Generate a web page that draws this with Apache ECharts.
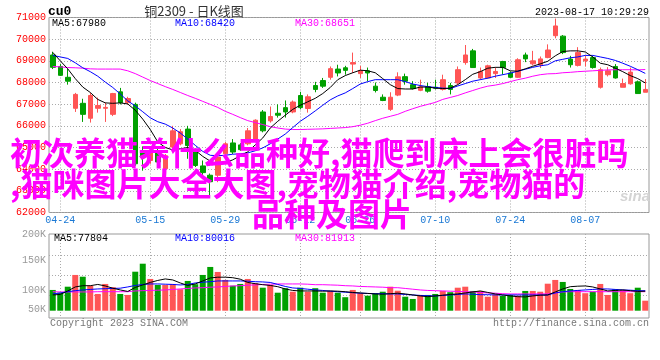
<!DOCTYPE html>
<html><head><meta charset="utf-8">
<script src="https://cdn.jsdelivr.net/npm/echarts@6/dist/echarts.min.js"></script>
<style>html,body{margin:0;padding:0;background:#fff}#c{width:660px;height:360px}</style>
</head><body><div id="c"></div>
<script>
const dates = ['04-21','04-24','04-25','04-26','04-27','04-28','05-04','05-05','05-08','05-09',
 '05-10','05-11','05-12','05-15','05-16','05-17','05-18','05-19','05-22','05-23',
 '05-24','05-25','05-26','05-29','05-30','05-31','06-01','06-02','06-05','06-06',
 '06-07','06-08','06-09','06-12','06-13','06-14','06-15','06-16','06-19','06-20',
 '06-21','06-26','06-27','06-28','06-29','06-30','07-03','07-04','07-05','07-06',
 '07-07','07-10','07-11','07-12','07-13','07-14','07-17','07-18','07-19','07-20',
 '07-21','07-24','07-25','07-26','07-27','07-28','07-31','08-01','08-02','08-03',
 '08-04','08-07','08-08','08-09','08-10','08-11','08-14','08-15','08-16','08-17'];
const labelDates = ['04-24','05-15','05-29','06-12','06-26','07-10','07-24','08-07'];

const openP = [69270,68740,68240,66810,67040,66350,66810,66810,66530,67570,
 67070,66990,64860,64400,64860,64020,65020,65170,65850,64860,
 64150,63720,63720,64710,65210,65120,65170,65390,66640,66230,
 66580,66840,66640,67400,66800,67860,68090,68240,68620,68680,
 68850,68410,68540,67830,67320,66760,67420,68270,67900,67640,
 67800,67780,67680,67860,67980,68920,69460,68210,68210,68410,
 68970,68440,68240,69270,68860,68820,69150,70160,70140,69080,
 68790,69000,69150,67780,68360,68740,67780,67940,68030,67550];
const closeP = [68700,68330,68060,67450,66530,67400,66940,66850,67490,67070,
 67260,64250,64560,64850,64330,64620,65770,65730,65090,64170,
 63840,63420,64560,65170,64790,64900,65770,66260,65770,66430,
 66490,66640,67100,66840,67340,67680,67830,68640,68440,68560,
 68920,68540,68440,67630,67170,67320,68260,68060,67720,67800,
 67600,67740,68130,67680,68590,69270,68690,68510,68770,68510,
 68690,68240,69050,69090,69000,69090,69500,70610,69380,68820,
 69380,69080,68690,68590,68540,68210,67950,68480,67490,67680];
const lowP = [68620,68300,67900,66640,66180,66150,66610,66180,66450,66990,
 66990,64160,63930,64250,64250,63570,64950,65100,64480,64100,
 63570,62730,63400,64600,64700,64850,65100,65350,65700,66150,
 66380,66380,66580,66760,66610,67550,67750,68130,68280,68360,
 68440,68210,68060,67540,67140,66690,67370,67900,67680,67600,
 67530,67680,67630,67450,67900,68820,68670,68130,68180,68210,
 68360,68210,68210,68940,68790,68670,69120,70040,69310,68690,
 68740,68740,68640,67720,68280,68180,67780,67900,67490,67550];
const highP = [69420,68850,68630,67520,67250,67520,67300,67070,67520,67750,
 67340,67070,65050,65000,64950,64700,66000,65850,66000,64950,
 64400,63800,64650,65250,65390,65200,65900,66300,66730,66890,
 66990,67170,67170,67570,67450,68030,68210,68740,68820,68770,
 69380,68770,68690,68000,67450,67550,68470,68410,68060,68130,
 67980,68130,68360,67980,68740,69730,69550,68690,68820,68690,
 69000,68510,69120,69380,69460,69200,69760,70950,70190,69230,
 69630,69240,69240,68690,68710,68850,68180,68690,68090,68160];

const ma5 = [69390,69000,68630,68180,67790,67540,67220,67060,67040,67060,
 67010,66720,66310,65830,65260,65000,64890,64940,65000,64870,
 64590,64370,64250,64300,64430,64620,64800,65120,65440,65900,
 66210,66490,66760,66950,67110,67270,67490,67770,68130,68320,
 68450,68570,68540,68450,68180,67900,67720,67700,67700,67790,
 67790,67740,67720,67740,67900,68130,68380,68500,68660,68700,
 68700,68540,68520,68630,68750,68860,68980,69230,69430,69460,
 69460,69410,69180,68890,68820,68660,68500,68320,68180,67980];
const ma10 = [69250,69180,69110,68910,68680,68500,68290,68020,67770,67470,
 67150,66920,66650,66370,66190,66080,65900,65670,65390,65100,
 64820,64640,64620,64640,64690,64710,64750,64850,64980,65170,
 65390,65620,65920,66210,66440,66690,66950,67200,67380,67520,
 67720,67930,68040,68130,68130,68130,68130,68040,67930,67860,
 67810,67770,67740,67720,67840,67950,68060,68130,68200,68290,
 68360,68430,68520,68610,68700,68770,68820,69000,69070,69140,
 69180,69250,69250,69180,69110,69020,68890,68750,68590,68420];
const ma30 = [68740,68720,68690,68680,68660,68630,68620,68620,68620,68620,
 68540,68410,68250,68090,67950,67810,67680,67540,67400,67270,
 67130,66990,66850,66670,66530,66380,66240,66150,66060,65960,
 65900,65850,65830,65830,65840,65850,65860,65880,65900,65920,
 65960,66030,66120,66240,66350,66440,66530,66670,66790,66900,
 66990,67080,67220,67310,67400,67520,67630,67740,67830,67880,
 67950,68040,68130,68200,68290,68360,68400,68410,68450,68470,
 68500,68520,68540,68560,68580,68590,68590,68590,68580,68600];

const volume = [83000,72000,96000,143000,136000,100000,67000,107000,94000,67000,
 63000,156000,188000,127000,103000,103000,107000,86000,119000,106000,
 143000,175000,155000,123000,100000,107000,127000,110000,92000,103000,
 72000,90000,76000,92000,76000,90000,72000,79000,72000,54000,
 83000,70000,60000,70000,76000,96000,80000,56000,47000,63000,
 63000,67000,79000,74000,92000,96000,79000,79000,56000,66000,
 59000,63000,60000,79000,79000,76000,108000,123000,115000,87000,
 83000,70000,76000,107000,63000,86000,83000,70000,92000,40000];
const volMa5 = [63000,65000,79000,95000,100000,100000,105000,99000,90000,83000,
 77000,93000,103000,113000,121000,127000,123000,111000,101000,107000,
 119000,131000,134000,134000,132000,126000,113000,108000,104000,101000,
 96000,87000,81000,79000,79000,79000,78000,79000,78000,76000,
 73000,71000,69000,67000,66000,68000,70000,67000,63000,59000,
 56000,59000,62000,65000,67000,71000,75000,79000,73000,67000,
 63000,59000,56000,55000,59000,62000,63000,75000,87000,96000,
 98000,99000,95000,87000,79000,81000,83000,80000,77000,78000];
const volMa10 = [67000,71000,76000,80000,83000,85000,87000,88000,89000,90000,
 95000,101000,105000,107000,107000,106000,105000,103000,105000,111000,
 114000,116000,119000,119000,119000,119000,118000,116000,115000,113000,
 105000,97000,91000,89000,86000,83000,81000,78000,76000,74000,
 72000,70000,69000,68000,68000,67000,67000,65000,63000,61000,
 60000,59000,61000,63000,65000,67000,66000,64000,64000,63000,
 63000,63000,63000,63000,63000,63000,63000,71000,76000,79000,
 81000,83000,85000,87000,87000,85000,83000,82000,80000,80000];
const volMa30 = [76000,75000,75000,75000,75000,75000,76000,76000,76000,76000,
 76000,79000,80000,81000,82000,83000,85000,87000,89000,91000,
 92000,94000,95000,97000,99000,100000,102000,103000,105000,106000,
 107000,107000,107000,107000,106000,104000,104000,103000,102000,100000,
 99000,97000,96000,95000,94000,92000,92000,89000,86000,83000,
 81000,80000,79000,78000,77000,76000,75000,73000,71000,70000,
 68000,67000,67000,67000,67000,67000,67000,71000,75000,76000,
 76000,76000,76000,76000,76000,76000,76000,76000,76000,76000];

const volTickValues = [4800, 82800, 202800, 306800];
const volTickLabels = ['50K', '100K', '150K', '200K'];
const volGridValues = [60000, 140000, 220000];

const symbolText = 'cu0';
const titleText = '铜2309 - 日K线图';
const timeText = '2023-08-17 10:29:29';
const priceMaText = ['MA5:67980', 'MA10:68420', 'MA30:68651'];
const volMaText = ['MA5:77804', 'MA10:80016', 'MA30:81913'];
const copyrightText = 'Copyright 2023 SINA.COM';
const urlText = 'http://finance.sina.com.cn';
const overlayLines = ['初次养猫养什么品种好,猫爬到床上会很脏吗', ',猫咪图片大全大图,宠物猫介绍,宠物猫的', '品种及图片'];

const UP = '#ff5555', DOWN = '#00a000';
const MONO = '"Liberation Mono", monospace';
const dotted = {color: '#aaaaaa', type: [1, 2], width: 1};
const isLabelDate = (i, v) => labelDates.indexOf(v) >= 0;

const chart = echarts.init(document.getElementById('c'), null, {renderer: 'canvas'});
const ohlc = openP.map((o, i) => [o, closeP[i], lowP[i], highP[i]]);
const volData = volume.map((v, i) => ({value: v, itemStyle: {color: closeP[i] >= openP[i] ? UP : DOWN}}));

function maLine(data, color, xi, yi) {
  return {type: 'line', data: data, xAxisIndex: xi, yAxisIndex: yi, symbol: 'none', showSymbol: false,
    lineStyle: {color: color, width: 1}, itemStyle: {color: color}, silent: true, z: 3};
}
function txt(text, x, y, font, fill, align, extra) {
  return {type: 'text', x: x, y: y, z: 100, silent: true,
    style: Object.assign({text: text, font: font, fill: fill, align: align || 'left', verticalAlign: 'middle'}, extra || {})};
}
const overlayStyle = {textShadowColor: '#444444', textShadowOffsetX: 2, textShadowOffsetY: 2, textShadowBlur: 0};
const overlayFont = 'bold 32px "Noto Sans CJK SC"';

chart.setOption({
  animation: false,
  backgroundColor: '#ffffff',
  grid: [
    {left: 49, top: 17.5, width: 600, height: 195, show: true, borderColor: '#999999', borderWidth: 1},
    {left: 49, top: 234, width: 600, height: 84, show: true, borderColor: '#999999', borderWidth: 1}
  ],
  xAxis: [
    {type: 'category', gridIndex: 0, data: dates, boundaryGap: true,
     axisLine: {show: false}, axisTick: {show: false},
     axisLabel: {interval: isLabelDate, color: '#1a78d4', fontFamily: MONO, fontSize: 10, margin: 3},
     splitLine: {show: true, interval: isLabelDate, alignWithLabel: true, lineStyle: dotted}},
    {type: 'category', gridIndex: 1, data: dates, boundaryGap: true,
     axisLine: {show: false}, axisTick: {show: false}, axisLabel: {show: false},
     splitLine: {show: true, interval: isLabelDate, alignWithLabel: true, lineStyle: dotted}}
  ],
  yAxis: [
    {type: 'value', gridIndex: 0, min: 62000, max: 71000, interval: 1000,
     axisLine: {show: false}, axisTick: {show: false},
     axisLabel: {color: '#ff0000', fontFamily: MONO, fontSize: 10, margin: 3, formatter: v => String(v)},
     splitLine: {show: true, lineStyle: dotted}},
    {type: 'value', gridIndex: 1, min: -29200, max: 306800,
     axisLine: {show: false}, axisTick: {show: false, customValues: volGridValues},
     axisLabel: {customValues: volTickValues, color: '#999999', fontFamily: MONO, fontSize: 10, margin: 3,
       formatter: v => { const k = volTickValues.indexOf(v); return k >= 0 ? volTickLabels[k] : ''; }},
     splitLine: {show: true, lineStyle: dotted}}
  ],
  series: [
    {type: 'candlestick', xAxisIndex: 0, yAxisIndex: 0, data: ohlc, barWidth: 5, silent: true,
     itemStyle: {color: UP, color0: DOWN, borderColor: UP, borderColor0: DOWN, borderWidth: 1}},
    maLine(ma30, '#ff00ff', 0, 0),
    maLine(ma10, '#0000ff', 0, 0),
    maLine(ma5, '#000000', 0, 0),
    {type: 'bar', xAxisIndex: 1, yAxisIndex: 1, data: volData, barWidth: 6, silent: true},
    maLine(volMa30, '#ff00ff', 1, 1),
    maLine(volMa10, '#0000ff', 1, 1),
    maLine(volMa5, '#000000', 1, 1)
  ],
  graphic: [
    txt(symbolText, 48, 12, 'bold 13px ' + MONO, '#000000'),
    txt(titleText, 194, 11, '13px "Noto Sans CJK SC"', '#333333', 'center'),
    txt(timeText, 649, 12, '10px ' + MONO, '#000000', 'right'),
    txt(priceMaText[0], 52, 23.5, '10px ' + MONO, '#000000'),
    txt(priceMaText[1], 175, 23.5, '10px ' + MONO, '#0000ff'),
    txt(priceMaText[2], 295, 23.5, '10px ' + MONO, '#ff00ff'),
    txt(volMaText[0], 54, 238.5, '10px ' + MONO, '#000000'),
    txt(volMaText[1], 175, 238.5, '10px ' + MONO, '#0000ff'),
    txt(volMaText[2], 295, 238.5, '10px ' + MONO, '#ff00ff'),
    txt(copyrightText, 50, 323, '10px ' + MONO, '#777777'),
    txt(urlText, 649, 323, '10px ' + MONO, '#777777', 'right'),
    txt('sina', 620, 197, 'italic bold 15px "Liberation Sans"', '#d4d4d4'),
    txt(overlayLines[0], 10, 152.5, overlayFont, '#ff00ff', 'left', overlayStyle),
    txt(overlayLines[1], 10, 184, overlayFont, '#ff00ff', 'left', overlayStyle),
    txt(overlayLines[2], 252, 214, overlayFont, '#ff00ff', 'left', overlayStyle)
  ]
});
</script></body></html>
